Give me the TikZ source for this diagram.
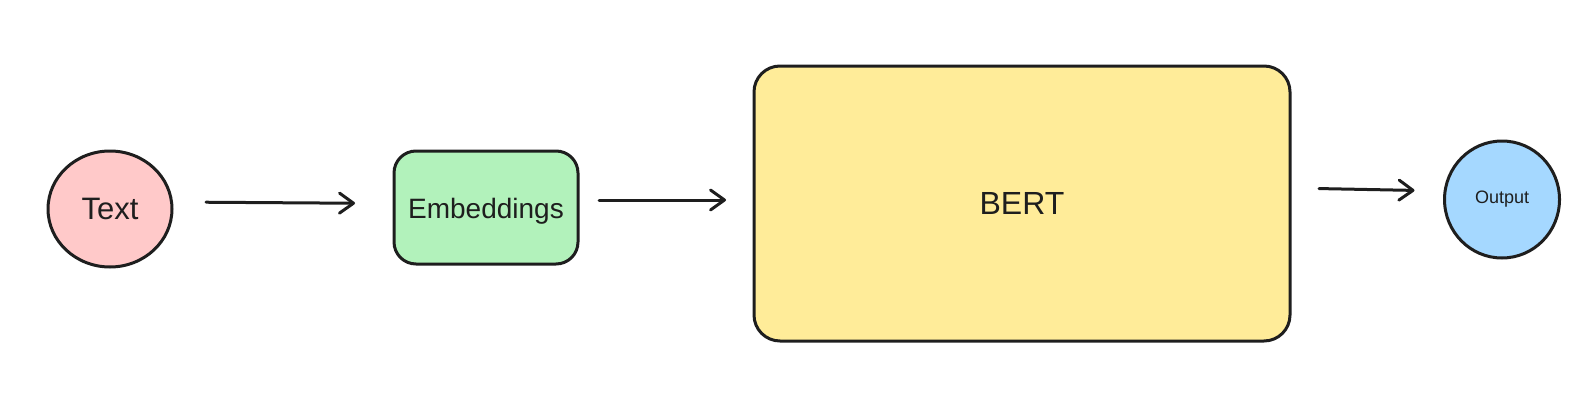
\documentclass[tikz,border=0pt]{standalone}
\usepackage{fontspec}
\setmainfont{Liberation Sans}
\usetikzlibrary{arrows.meta,shapes.geometric}
\definecolor{stroke}{HTML}{1E1E1E}
\definecolor{pinkfill}{HTML}{FFC9C9}
\definecolor{greenfill}{HTML}{B2F2BB}
\definecolor{yellowfill}{HTML}{FFEC99}
\definecolor{bluefill}{HTML}{A5D8FF}
\begin{document}
\begin{tikzpicture}[x=1pt,y=-1pt,
  shapebox/.style={draw=stroke,line width=3pt,inner sep=0pt,outer sep=0pt,text=stroke},
  roundbox/.style={shapebox,rectangle,rounded corners=22pt},
  ovalbox/.style={shapebox,ellipse},
  conn/.style={draw=stroke,line width=3pt,line cap=round,
    -{Straight Barb[length=14pt,width=20pt,line width=3pt,line cap=round,line join=round]}}
]
\useasboundingbox (0,0) rectangle (1578,404);
\node[ovalbox,fill=pinkfill,minimum width=124pt,minimum height=116pt,font=\fontsize{31}{33}\selectfont] (text) at (110,209) {Text};
\node[roundbox,fill=greenfill,minimum width=184pt,minimum height=113pt,font=\fontsize{28}{30}\selectfont] (emb) at (486,207.5) {\raisebox{-11pt}[0pt][0pt]{Embeddings}};
\node[roundbox,fill=yellowfill,minimum width=536pt,minimum height=275pt,rounded corners=26pt,font=\fontsize{32}{34}\selectfont] (bert) at (1022,203.5) {BERT};
\node[ovalbox,fill=bluefill,minimum width=115pt,minimum height=117pt,font=\fontsize{18}{20}\selectfont] (out) at (1502,199.5) {Output};
\draw[conn,shorten <=34pt,shorten >=39pt] ([yshift=7pt]text.east) -- ([yshift=4pt]emb.west);
\draw[conn,shorten <=21pt,shorten >=28pt] ([yshift=7.5pt]emb.east) -- ([yshift=3.5pt]bert.west);
\draw[conn,shorten <=29pt,shorten >=30pt] ([yshift=15.5pt]bert.east) -- ([yshift=8.5pt]out.west);
\end{tikzpicture}
\end{document}
